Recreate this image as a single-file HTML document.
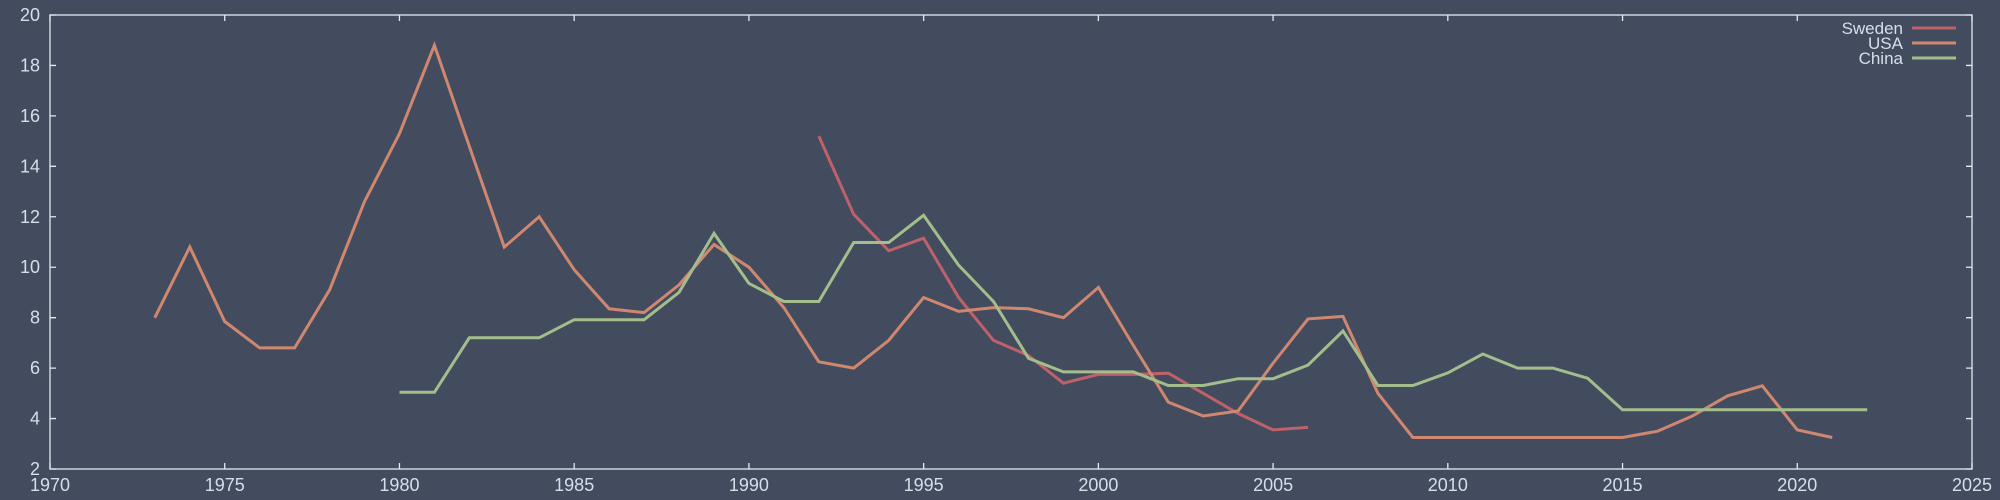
<!DOCTYPE html>
<html><head><meta charset="utf-8"><style>
html,body{margin:0;padding:0;background:#434c5e;}
svg{display:block;font-family:"Liberation Sans",sans-serif;}
</style></head><body>
<svg id="chart" width="2000" height="500" xmlns="http://www.w3.org/2000/svg">
<rect width="2000" height="500" fill="#434c5e"/>
</svg>
<script>
const xTicks=[1970,1975,1980,1985,1990,1995,2000,2005,2010,2015,2020,2025];
const yTicks=[2,4,6,8,10,12,14,16,18,20];
const swedenYears=[1992,1993,1994,1995,1996,1997,1998,1999,2000,2001,2002,2003,2004,2005,2006];
const swedenValues=[15.2,12.1,10.65,11.15,8.8,7.1,6.5,5.4,5.75,5.75,5.8,5.0,4.2,3.55,3.65];
const usaYears=[1973,1974,1975,1976,1977,1978,1979,1980,1981,1982,1983,1984,1985,1986,1987,1988,1989,1990,1991,1992,1993,1994,1995,1996,1997,1998,1999,2000,2001,2002,2003,2004,2005,2006,2007,2008,2009,2010,2011,2012,2013,2014,2015,2016,2017,2018,2019,2020,2021];
const usaValues=[8.0,10.8,7.85,6.8,6.8,9.1,12.6,15.3,18.8,14.8,10.8,12.0,9.9,8.35,8.2,9.3,10.9,10.0,8.4,6.25,6.0,7.1,8.8,8.25,8.4,8.35,8.0,9.2,6.9,4.65,4.1,4.3,6.2,7.95,8.05,5.0,3.25,3.25,3.25,3.25,3.25,3.25,3.25,3.5,4.1,4.9,5.3,3.55,3.25];
const chinaYears=[1980,1981,1982,1983,1984,1985,1986,1987,1988,1989,1990,1991,1992,1993,1994,1995,1996,1997,1998,1999,2000,2001,2002,2003,2004,2005,2006,2007,2008,2009,2010,2011,2012,2013,2014,2015,2016,2017,2018,2019,2020,2021,2022];
const chinaValues=[5.04,5.04,7.2,7.2,7.2,7.92,7.92,7.92,9.0,11.34,9.36,8.64,8.64,10.98,10.98,12.06,10.08,8.64,6.39,5.85,5.85,5.85,5.31,5.31,5.58,5.58,6.12,7.47,5.31,5.31,5.81,6.56,6.0,6.0,5.6,4.35,4.35,4.35,4.35,4.35,4.35,4.35,4.35];
const seriesNames=["Sweden","USA","China"];

const NS="http://www.w3.org/2000/svg";
const svg=document.getElementById('chart');
const L=50,R=1972,T=15,B=469;
const xS=v=>L+(v-1970)/(2025-1970)*(R-L);
const yS=v=>B-(v-2)/(20-2)*(B-T);
function mk(tag,attrs,parent){const e=document.createElementNS(NS,tag);for(const k in attrs)e.setAttribute(k,attrs[k]);(parent||svg).appendChild(e);return e;}
const axisC="#e5e9f0",textC="#d8dee9";
const frame=mk('rect',{x:L,y:T,width:R-L,height:B-T,fill:'none',stroke:axisC,'stroke-width':1.3});


xTicks.forEach(t=>{
  const x=xS(t);
  const tk=mk('path',{d:`M${x},${B}v-6M${x},${T}v6`,stroke:axisC,'stroke-width':1.3});
  
  
  const lb=mk('text',{x:x,y:B+22,'text-anchor':'middle','font-size':18,fill:textC});
  lb.textContent=t;
  
  
});
yTicks.forEach(t=>{
  const y=yS(t);
  const tk=mk('path',{d:`M${L},${y}h6M${R},${y}h-6`,stroke:axisC,'stroke-width':1.3});
  
  
  const lb=mk('text',{x:L-10,y:y+6,'text-anchor':'end','font-size':18,fill:textC});
  lb.textContent=t;
  
  
});
const colors=["#bf616a","#d08770","#a3be8c"];
[[swedenYears,swedenValues],[usaYears,usaValues],[chinaYears,chinaValues]].forEach((s,i)=>{
  const d=s[0].map((yr,j)=>(j?'L':'M')+xS(yr).toFixed(1)+','+yS(s[1][j]).toFixed(1)).join('');
  const p=mk('path',{d:d,fill:'none',stroke:colors[i],'stroke-width':3,'stroke-linejoin':'miter'});
  
  
  const ly=28+i*15;
  const lt=mk('text',{x:1903,y:ly+6,'text-anchor':'end','font-size':17,fill:textC});
  lt.textContent=seriesNames[i];
  
  
  const ll=mk('line',{x1:1912,x2:1956,y1:ly,y2:ly,stroke:colors[i],'stroke-width':3});
  
  
});
</script>
</body></html>
